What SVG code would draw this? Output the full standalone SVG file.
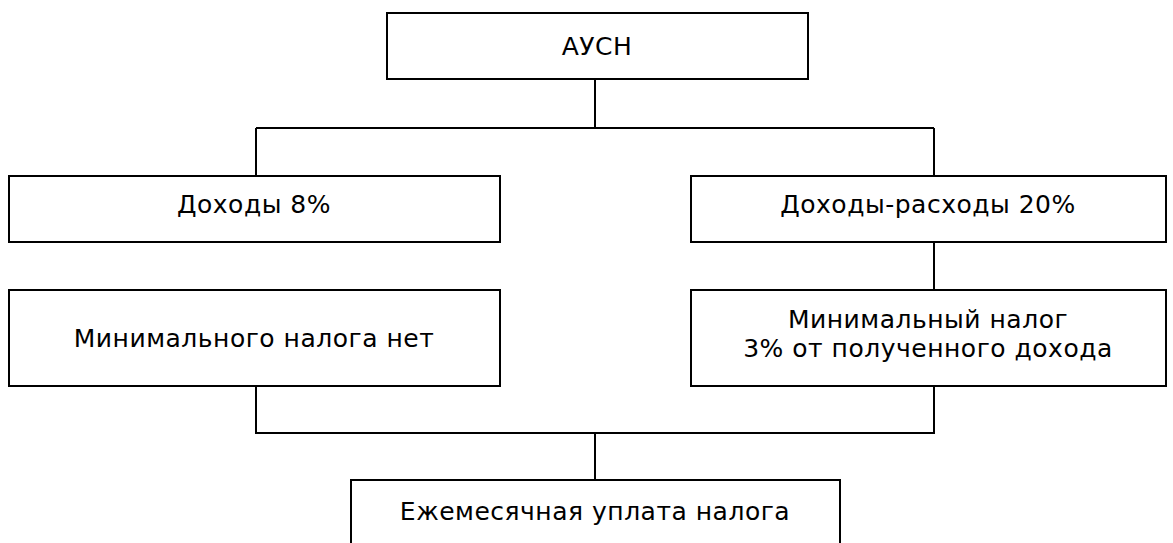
<svg xmlns="http://www.w3.org/2000/svg" width="1173" height="543" viewBox="0 0 1173 543">
<style>
.box{fill:#fff;stroke:#000;stroke-width:2}
.ln{fill:none;stroke:#000;stroke-width:2}
text{font-family:"DejaVu Sans",Verdana,sans-serif;font-size:25px;letter-spacing:0.5px;fill:#000;text-anchor:middle}
</style>
<rect width="1173" height="543" fill="#fff"/>
<g id="connectors">
<path class="ln" d="M595 79V128M256 128H934M256 128V176M934 128V176"/>
<path class="ln" d="M934 242V290"/>
<path class="ln" d="M256 386V433H934V386M595 433V480"/>
</g>
<g id="ausn"><rect class="box" x="387" y="13" width="421" height="66"/><text x="597" y="55">АУСН</text></g>
<g id="income"><rect class="box" x="9" y="176" width="491" height="66"/><text x="254" y="213">Доходы 8%</text></g>
<g id="income-exp"><rect class="box" x="691" y="176" width="475" height="66"/><text x="928" y="213">Доходы-расходы 20%</text></g>
<g id="nomin"><rect class="box" x="9" y="290" width="491" height="96"/><text x="254" y="347">Минимального налога нет</text></g>
<g id="min"><rect class="box" x="691" y="290" width="475" height="96"/><text x="928" y="328">Минимальный налог</text><text x="928" y="357">3% от полученного дохода</text></g>
<g id="monthly"><rect class="box" x="351" y="480" width="489" height="80"/><text x="595" y="520">Ежемесячная уплата налога</text></g>
</svg>
